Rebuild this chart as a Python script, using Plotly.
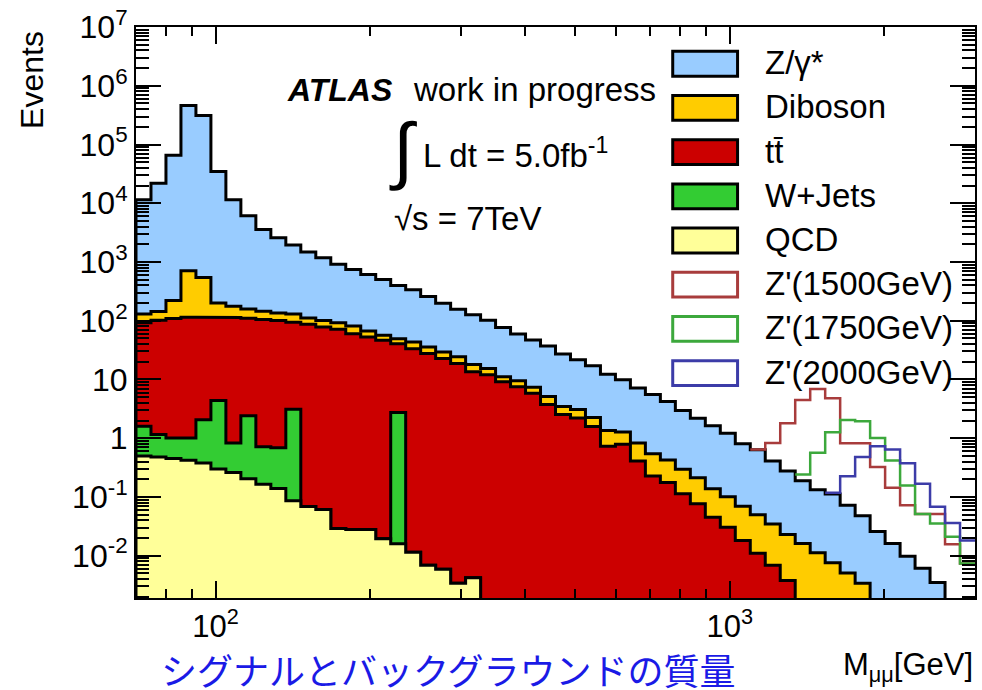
import numpy as np
import plotly.graph_objects as go

# Dimuon invariant-mass binning: 56 log-uniform bins from 70 GeV to 3 TeV
MASS_LO, MASS_HI, N_BINS = 70.0, 3000.0, 56
edges = np.logspace(np.log10(MASS_LO), np.log10(MASS_HI), N_BINS + 1)

# Expected events per bin for each background sample
qcd = [0.50, 0.48, 0.45, 0.42, 0.38, 0.30, 0.26, 0.205, 0.165, 0.14,
       0.086, 0.069, 0.061, 0.029, 0.028, 0.028, 0.0195, 0.016, 0.0115, 0.0069,
       0.0059, 0.0034, 0.0042] + [0.0] * 33
wjets = [1.10, 0.68, 0.56, 0.59, 1.69, 4.08, 0.57, 2.22, 0.55, 0.55,
         3.04, 0.0, 0.0, 0.0, 0.0, 0.0, 0.0, 2.73] + [0.0] * 38
ttbar = [90.6, 101.2, 108.3, 114.0, 112.9, 110.6, 112.9, 108.2, 104.4, 100.5,
         91.6, 87.5, 77.9, 71.3, 60.1, 52.8, 46.4, 37.9, 33.5, 27.6,
         22.7, 18.7, 13.5, 12.05, 9.18, 7.55, 5.82, 3.75, 2.54, 2.20,
         1.59, 0.733, 0.792, 0.409, 0.228, 0.176, 0.113, 0.0768, 0.0451, 0.0306,
         0.0182, 0.0110, 0.0069, 0.0038] + [0.0] * 12
diboson = [38.7, 41.2, 111.0, 592.5, 430.0, 85.6, 62.7, 48.3, 40.2, 34.7,
           36.2, 24.3, 23.2, 20.9, 21.0, 13.9, 10.0, 8.8, 10.0, 8.2,
           6.8, 5.6, 4.5, 3.35, 1.96, 2.0, 1.54, 1.37, 0.93, 0.89,
           0.67, 0.616, 0.485, 0.424, 0.315, 0.249, 0.183, 0.136, 0.093, 0.070,
           0.0515, 0.039, 0.0277, 0.0192, 0.0162, 0.0112, 0.0076, 0.0051, 0.0034] + [0.0] * 7
zgamma = [11330, 21790, 65700, 460300, 312000, 34390, 11280, 5990, 3422, 2448,
          1814, 1370, 1086, 823, 663, 545, 448, 350, 292, 224,
          168.5, 132.7, 109, 86.6, 65.3, 49.9, 39.6, 32.1, 23.8, 18.5,
          14.8, 10.95, 8.65, 6.30, 5.00, 3.80, 2.67, 1.97, 1.49, 1.11,
          0.737, 0.589, 0.374, 0.254, 0.172, 0.121, 0.105, 0.0673, 0.0447, 0.0258,
          0.0162, 0.0098, 0.0061, 0.0035, 0.0, 0.0]

# Z' signal expectations (drawn on top of the total background)
zp1500 = [0.0] * 41 + [0.004, 0.424, 1.515, 4.28, 6.73, 4.69, 0.751, 0.775,
                       0.298, 0.128, 0.0626, 0.0453, 0.0479, 0.0156, 0.0074]
zp1750 = [0.0] * 44 + [0.052, 0.433, 1.150, 1.966, 1.889, 0.986, 0.401,
                       0.1466, 0.0453, 0.0320, 0.0210, 0.0074]
zp2000 = [0.0] * 46 + [0.005, 0.152, 0.433, 0.707, 0.629, 0.364, 0.162,
                       0.0648, 0.0360, 0.0182]

y_tick_exponents = list(range(-2, 8))
x_tick_values = [100, 1000]
x_tick_labels = ["10<sup>2</sup>", "10<sup>3</sup>"]

FONT = "Liberation Sans, Arial, Helvetica, sans-serif"
FLOOR = 1e-5

# Stack: QCD, W+Jets, ttbar, Diboson, Z/gamma*
layers = [
    ("QCD", qcd, "#ffff99"),
    ("W+Jets", wjets, "#33cc33"),
    ("tt̄", ttbar, "#cc0000"),
    ("Diboson", diboson, "#ffcc00"),
    ("Z/γ*", zgamma, "#99ccff"),
]
cum = np.zeros(N_BINS)
stack_tops = []
for name, vals, color in layers:
    cum = cum + np.asarray(vals, dtype=float)
    stack_tops.append((name, cum.copy(), color))
total_bkg = cum.copy()


def filled_step(values):
    v = np.where(values > 0, values, FLOOR)
    xs, ys = [edges[0]], [FLOOR]
    for i in range(N_BINS):
        xs += [edges[i], edges[i + 1]]
        ys += [v[i], v[i]]
    xs.append(edges[-1])
    ys.append(FLOOR)
    return xs, ys


def open_step(values):
    nz = np.nonzero(values)[0]
    i0 = nz[0]
    xs, ys = [], []
    for i in range(i0, N_BINS):
        xs += [edges[i], edges[i + 1]]
        ys += [values[i], values[i]]
    return xs, ys


fig = go.Figure()

# draw from the tallest stack level down so each lower component sits on top
for name, top, color in reversed(stack_tops):
    xs, ys = filled_step(top)
    fig.add_trace(go.Scatter(
        x=xs, y=ys, mode="lines", fill="toself", fillcolor=color,
        line=dict(color="black", width=3), name=name, showlegend=False,
        hoverinfo="skip"))

signals = [
    ("Z'(1500GeV)", zp1500, "#a83c3c"),
    ("Z'(1750GeV)", zp1750, "#3ca83c"),
    ("Z'(2000GeV)", zp2000, "#3c3ca8"),
]
for name, sig, color in signals:
    sig = np.asarray(sig, dtype=float)
    shown = np.where(sig > 0, total_bkg + sig, 0.0)
    xs, ys = open_step(shown)
    fig.add_trace(go.Scatter(
        x=xs, y=ys, mode="lines", line=dict(color=color, width=2.5),
        name=name, showlegend=False, hoverinfo="skip"))

# page geometry of the frame (pixels)
L, R, T, B = 136, 977, 23, 598
W_PX, H_PX = 982, 690


def px(x):
    return (x - L) / (R - L)


def py(y):
    return (B - y) / (B - T)


shapes = []
annotations = []

# legend
legend_rows = [(n, c, True) for n, _, c in reversed(stack_tops)] + \
              [(n, c, False) for n, _, c in signals]
for i, (name, color, filled) in enumerate(legend_rows):
    yc = 60 + 44.5 * i
    shapes.append(dict(
        type="rect", xref="paper", yref="paper",
        x0=px(674), x1=px(739), y0=py(yc + 12.5), y1=py(yc - 12.5),
        fillcolor=color if filled else "white",
        line=dict(color="black" if filled else color, width=3)))
    annotations.append(dict(
        x=px(764), y=py(yc - 1), xref="paper", yref="paper", text=name,
        showarrow=False, xanchor="left", yanchor="middle",
        font=dict(family=FONT, size=33, color="black")))

# experiment labels
annotations += [
    dict(x=px(285), y=py(86), text="<b><i>ATLAS</i></b>", xanchor="left",
         font=dict(family=FONT, size=32)),
    dict(x=px(412), y=py(86), text="work in progress", xanchor="left",
         font=dict(family=FONT, size=33)),
    dict(x=px(388), y=py(146), text="∫", xanchor="left",
         font=dict(family=FONT, size=74)),
    dict(x=px(422), y=py(150), text="L dt = 5.0fb<sup>-1</sup>", xanchor="left",
         font=dict(family=FONT, size=33)),
    dict(x=px(393), y=py(216), text="√s = 7TeV", xanchor="left",
         font=dict(family=FONT, size=33)),
    dict(x=px(31), y=py(76), text="Events", textangle=-90, xanchor="center",
         font=dict(family=FONT, size=32)),
    dict(x=px(977), y=py(667), text="M<sub>μμ</sub>[GeV]", xanchor="right",
         font=dict(family=FONT, size=31)),
    dict(x=px(449), y=py(669), text="シグナルとバックグラウンドの質量",
         xanchor="center", font=dict(family="Noto Sans CJK JP", size=36, color="#1a1ae6")),
]
for a in annotations:
    a.setdefault("xref", "paper")
    a.setdefault("yref", "paper")
    a.setdefault("showarrow", False)
    a.setdefault("yanchor", "middle")
    a["font"].setdefault("color", "black")

x_minor = [v * 10 ** e for e in (1, 2, 3) for v in range(2, 10)
           if MASS_LO < v * 10 ** e <= MASS_HI]
y_minor = [v * 10.0 ** e for e in range(-3, 7) for v in range(2, 10)]

fig.update_layout(
    width=W_PX, height=H_PX,
    margin=dict(l=L, r=W_PX - R, t=T, b=H_PX - B, pad=0),
    paper_bgcolor="white", plot_bgcolor="white",
    showlegend=False, shapes=shapes, annotations=annotations,
    xaxis=dict(
        type="log", range=[np.log10(MASS_LO), np.log10(MASS_HI)],
        showgrid=False, zeroline=False, showline=True, linecolor="black",
        linewidth=2, mirror="allticks", ticks="inside", ticklen=17,
        tickwidth=1.5, tickcolor="black", tickmode="array",
        tickvals=x_tick_values, ticktext=x_tick_labels,
        tickfont=dict(family=FONT, size=31, color="black"),
        minor=dict(ticks="inside", ticklen=9, tickwidth=1.5, tickcolor="black",
                   tickmode="array", tickvals=x_minor, showgrid=False),
    ),
    yaxis=dict(
        type="log", range=[-2.72, 7.001],
        showgrid=False, zeroline=False, showline=True, linecolor="black",
        linewidth=2, mirror="allticks", ticks="inside", ticklen=25,
        tickwidth=1.5, tickcolor="black", tickmode="array",
        tickvals=[10.0 ** e for e in y_tick_exponents],
        ticktext=[("1" if e == 0 else "10" if e == 1 else f"10<sup>{e}</sup>")
                  for e in y_tick_exponents],
        tickfont=dict(family=FONT, size=32, color="black"),
        minor=dict(ticks="inside", ticklen=13, tickwidth=1.5, tickcolor="black",
                   tickmode="array", tickvals=y_minor, showgrid=False),
    ),
)

fig.write_html("out.html")
